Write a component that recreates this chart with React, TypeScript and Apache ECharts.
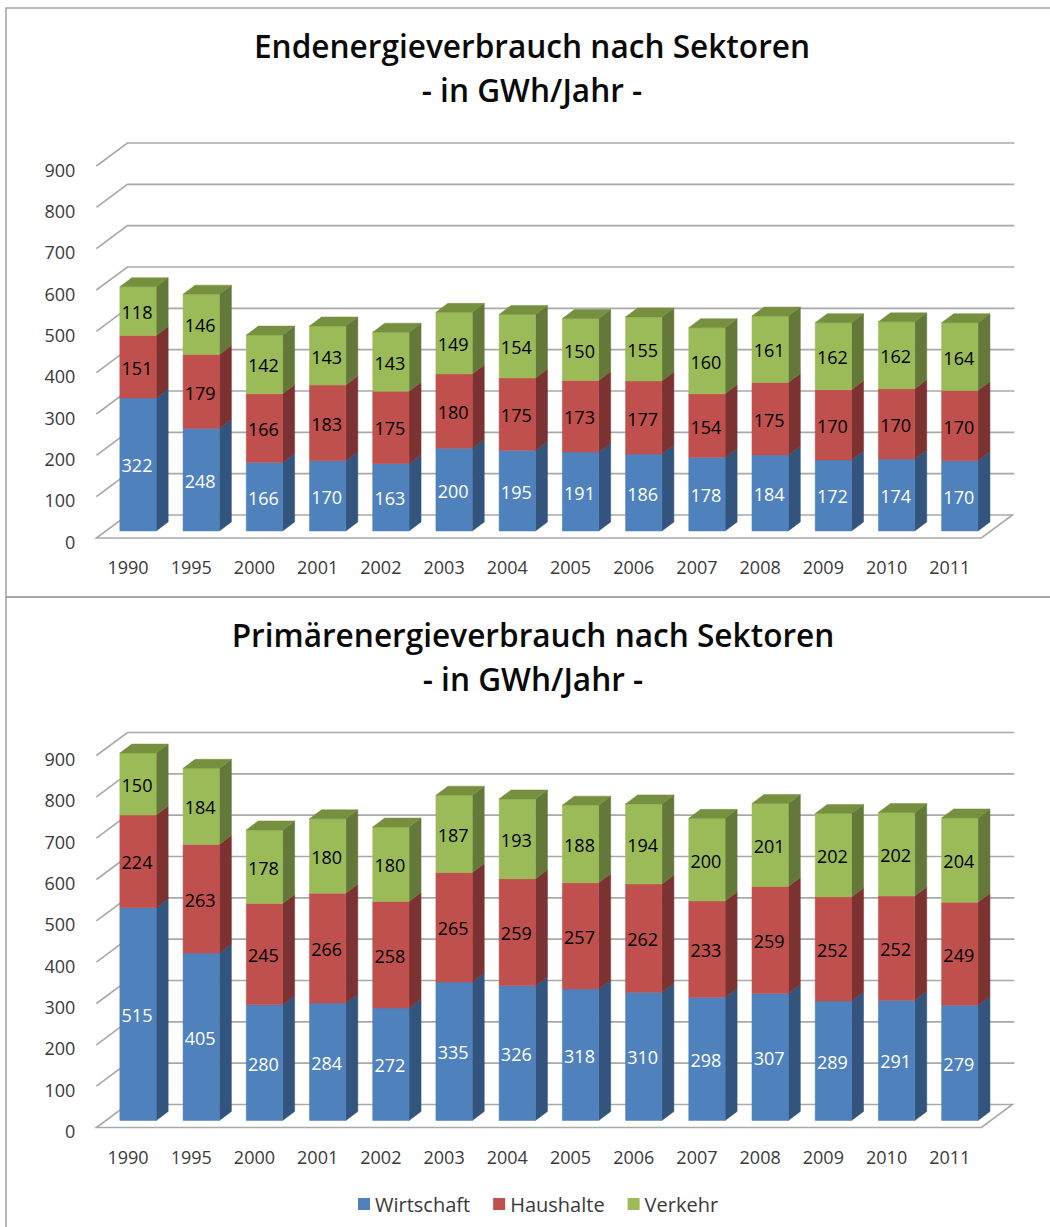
import React, { useEffect, useRef } from "react";
import * as echarts from "echarts";

const years = ["1990","1995","2000","2001","2002","2003","2004","2005","2006","2007","2008","2009","2010","2011"];
const yTicks = [0,100,200,300,400,500,600,700,800,900];

const endWirtschaft = [322,248,166,170,163,200,195,191,186,178,184,172,174,170];
const endHaushalte = [151,179,166,183,175,180,175,173,177,154,175,170,170,170];
const endVerkehr = [118,146,142,143,143,149,154,150,155,160,161,162,162,164];

const primWirtschaft = [515,405,280,284,272,335,326,318,310,298,307,289,291,279];
const primHaushalte = [224,263,245,266,258,265,259,257,262,233,259,252,252,249];
const primVerkehr = [150,184,178,180,180,187,193,188,194,200,201,202,202,204];

const titles = ["Endenergieverbrauch nach Sektoren\n- in GWh/Jahr -", "Primärenergieverbrauch nach Sektoren\n- in GWh/Jahr -"];

const FONT = "Open Sans";
const TEXT = "#3a3a3a";
const GRIDLINE = "#a9a9a9";
const WALL = { dx: 31, dy: -23 };
const BAR = { dx: 10, dy: -7, depthX: 12, depthY: -9, ratio: 0.575 };

const palette = [
  { name: "Wirtschaft", face: "#4f81bd", side: "#33547c", top: "#406a9c", label: "#ffffff" },
  { name: "Haushalte", face: "#c0504d", side: "#7b3230", top: "#994040", label: "#000000" },
  { name: "Verkehr", face: "#9bbb59", side: "#647839", top: "#76903f", label: "#000000" },
];

function poly(points: number[][], fill: string) {
  return { type: "polygon", shape: { points }, style: { fill, stroke: fill, lineWidth: 0.5 } };
}

function gridlineSeries(gridIndex: number) {
  return {
    type: "custom",
    name: "grid" + gridIndex,
    xAxisIndex: gridIndex,
    yAxisIndex: gridIndex,
    silent: true,
    clip: false,
    z: 1,
    data: yTicks.map((v) => [0, v]),
    encode: { x: 0, y: 1 },
    renderItem: (params: any, api: any) => {
      const cs = params.coordSys;
      const v = api.value(1);
      const y = api.coord([0, v])[1];
      const xl = cs.x;
      const xr = cs.x + cs.width;
      const children: any[] = [];
      if (v === 0) {
        children.push({
          type: "polygon",
          shape: { points: [[xl, y], [xr, y], [xr + WALL.dx, y + WALL.dy], [xl + WALL.dx, y + WALL.dy]] },
          style: { fill: "#ffffff", stroke: GRIDLINE, lineWidth: 1.6 },
        });
      } else {
        children.push({
          type: "polyline",
          shape: { points: [[xl, y], [xl + WALL.dx, y + WALL.dy], [xr + WALL.dx + 2, y + WALL.dy]] },
          style: { fill: "none", stroke: GRIDLINE, lineWidth: 1.6 },
        });
      }
      return { type: "group", children };
    },
  };
}

function barSeries(gridIndex: number, idx: number, values: number[], bases: number[], isTop: boolean) {
  const c = palette[idx];
  return {
    type: "custom",
    name: c.name,
    xAxisIndex: gridIndex,
    yAxisIndex: gridIndex,
    silent: true,
    clip: false,
    z: 3,
    itemStyle: { color: c.face },
    data: values.map((v, i) => [i, bases[i], v]),
    encode: { x: 0, y: 1 },
    renderItem: (_params: any, api: any) => {
      const i = api.value(0);
      const base = api.value(1);
      const val = api.value(2);
      const p0 = api.coord([i, base]);
      const p1 = api.coord([i, base + val]);
      const band = api.size([1, 0])[0];
      const w = band * BAR.ratio;
      const x0 = p0[0] + BAR.dx - w / 2;
      const x1 = x0 + w;
      const yb = p0[1] + BAR.dy;
      const yt = p1[1] + BAR.dy;
      const children: any[] = [
        poly([[x1, yb], [x1 + BAR.depthX, yb + BAR.depthY], [x1 + BAR.depthX, yt + BAR.depthY], [x1, yt]], c.side),
        poly([[x0, yb], [x1, yb], [x1, yt], [x0, yt]], c.face),
      ];
      if (isTop) {
        children.push(poly([[x0, yt], [x1, yt], [x1 + BAR.depthX, yt + BAR.depthY], [x0 + BAR.depthX, yt + BAR.depthY]], c.top));
      }
      children.push({
        type: "text",
        x: (x0 + x1) / 2 - 1,
        y: (yb + yt) / 2 + 1,
        style: {
          text: String(val),
          fill: c.label,
          fontFamily: FONT,
          fontSize: 18,
          fontWeight: 500,
          align: "center",
          verticalAlign: "middle",
        },
      });
      return { type: "group", children };
    },
  };
}

function stackSeries(gridIndex: number, stacks: number[][]) {
  const out: any[] = [gridlineSeries(gridIndex)];
  const running = years.map(() => 0);
  stacks.forEach((vals, idx) => {
    const bases = running.slice();
    vals.forEach((v, i) => { running[i] += v; });
    out.push(barSeries(gridIndex, idx, vals, bases, idx === stacks.length - 1));
  });
  return out;
}

export default function App() {
  const ref = useRef<HTMLDivElement>(null);
  useEffect(() => {
    document.body.style.margin = "0";
    const chart = echarts.init(ref.current!, null, { renderer: "svg" });
    const gridLayout = [
      { left: 96.4, width: 885, top: 166, height: 372 },
      { left: 96.4, width: 885, top: 755.5, height: 372 },
    ];
    const xAxis = gridLayout.map((_, g) => ({
      type: "category",
      gridIndex: g,
      data: years,
      boundaryGap: true,
      axisLine: { show: false },
      axisTick: { show: false },
      axisLabel: { margin: 20, fontFamily: FONT, fontSize: 18, color: TEXT, interval: 0 },
    }));
    const yAxis = gridLayout.map((_, g) => ({
      type: "value",
      gridIndex: g,
      min: 0,
      max: 900,
      interval: 100,
      axisLine: { show: false },
      axisTick: { show: false },
      splitLine: { show: false },
      axisLabel: {
        margin: 21,
        formatter: "{a|{value}}",
        rich: { a: { fontFamily: FONT, fontSize: 18, color: TEXT, padding: [7, 0, 0, 0] } },
      },
    }));
    const titleStyle = { fontFamily: FONT, fontSize: 31.6, fontWeight: 600, color: "#0a0a0a", lineHeight: 44 };
    chart.setOption({
      animation: false,
      backgroundColor: "#ffffff",
      title: [
        { text: titles[0], left: 527, top: 18, textAlign: "center", textStyle: titleStyle },
        { text: titles[1], left: 528, top: 607, textAlign: "center", textStyle: titleStyle },
      ],
      legend: {
        data: palette.map((p) => p.name),
        left: 358,
        top: 1194,
        padding: 0,
        icon: "rect",
        itemWidth: 12,
        itemHeight: 12,
        itemGap: 23,
        selectedMode: false,
        textStyle: { fontFamily: FONT, fontSize: 20, color: TEXT },
      },
      grid: gridLayout,
      xAxis,
      yAxis,
      series: [
        ...stackSeries(0, [endWirtschaft, endHaushalte, endVerkehr]),
        ...stackSeries(1, [primWirtschaft, primHaushalte, primVerkehr]),
      ],
      graphic: [
        { type: "polyline", silent: true, z: 10, shape: { points: [[1050, 8], [6, 8], [6, 1227]] }, style: { fill: "none", stroke: "#a6a6a6", lineWidth: 1.6 } },
        { type: "line", silent: true, z: 10, shape: { x1: 6, y1: 597, x2: 1050, y2: 597 }, style: { stroke: "#a6a6a6", lineWidth: 2 } },
      ],
    });
    return () => chart.dispose();
  }, []);
  return <div ref={ref} style={{ width: 1050, height: 1227 }} />;
}
